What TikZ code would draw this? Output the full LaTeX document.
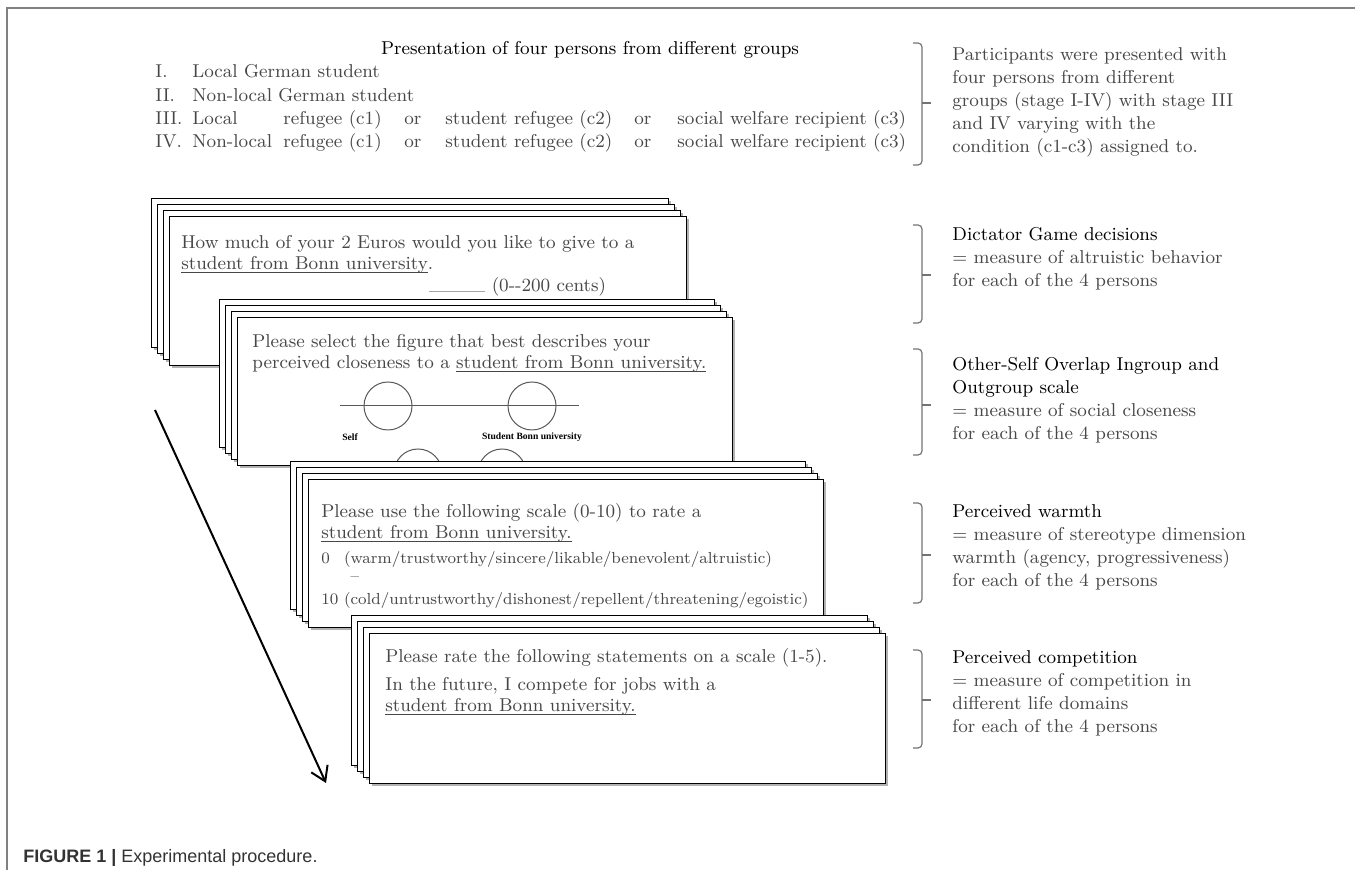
\documentclass[tikz,border=0pt]{standalone}
\usepackage{fontspec}
\usetikzlibrary{arrows.meta,shadows}
\newfontfamily\figfont{Liberation Serif}
\newfontfamily\capfont{Liberation Sans}
\definecolor{txtgray}{gray}{0.28}
\definecolor{framegray}{gray}{0.5}
\newsavebox{\undlbox}
\newcommand{\undl}[1]{\sbox{\undlbox}{#1}\rlap{\rule[-1.6pt]{\wd\undlbox}{0.45pt}}\usebox{\undlbox}}
\newcommand{\lines}[1]{\begin{tabular}[t]{@{}l@{}}#1\end{tabular}}
\newcommand{\hd}[1]{\textcolor{black}{#1}}
\newcommand{\scalefont}{\fontsize{8.0}{10}\selectfont}
% stack of four cards, front card at (#2,#3), size #4 x #5 (px)
\newcommand{\cardstack}[5]{%
	\foreach \k in {3,2,1,0}
		\node at ({#2-6*\k},{#3-6*\k}) (#1-\k) [card,minimum width=#4*0.5pt,minimum height=#5*0.5pt] {};
}
% bracket on the right: x, top, tick, bottom
\newcommand{\sidebrace}[4]{%
	\draw[sidebr] ({#1-9},#2) -- (#1,#2) -- (#1,#4) -- ({#1-9},#4);
	\draw[sidebr] (#1,#3) -- ({#1+9},#3);
}
\begin{document}
\begin{tikzpicture}
		[x=0.5pt,y=-0.5pt,
		card/.style={draw,fill=white,line width=0.7pt,anchor=north west,inner sep=0pt,
drop shadow={shadow xshift=1pt,shadow yshift=-1.2pt,fill=black,opacity=0.3}},
		note/.style={anchor=base west,inner sep=0pt,text=txtgray,font=\fontsize{9.3}{11.5}\selectfont},
		cardtext/.style={note,font=\fontsize{9.3}{10.5}\selectfont},
		sidebr/.style={draw=black!55,line width=0.6pt,rounded corners=2pt},
		ios/.style={circle,draw=black!65,line width=0.5pt,minimum size=24pt,inner sep=0pt},
		ioslabel/.style={inner sep=0pt,font=\figfont\bfseries\fontsize{4.8}{5}\selectfont},
		flow/.style={-{Straight Barb[length=7pt,width=9pt]},line width=1pt}]
		\useasboundingbox (0,0) rectangle (1355,870);
		\draw[framegray,line width=0.8pt] (7,870) -- (7,8) -- (1355,8);
		% presentation of the groups
		\node at (590,55) (title) [anchor=base,inner sep=0pt,font=\fontsize{9.3}{11.5}\selectfont] {Presentation of four persons from different groups};
		\node at (155,78) (groups) [note,font=\fontsize{9.3}{11.65}\selectfont] {%
\begin{tabular}[t]{@{}p{18.5pt}@{}p{45.5pt}@{}p{60.5pt}@{}p{20.5pt}@{}p{94.5pt}@{}p{21.5pt}@{}l@{}}
I. & \multicolumn{6}{@{}l}{Local German student}\\
II. & \multicolumn{6}{@{}l}{Non-local German student}\\
III. & Local & refugee (c1) & or & student refugee (c2) & or & social welfare recipient (c3)\\
IV. & Non-local & refugee (c1) & or & student refugee (c2) & or & social welfare recipient (c3)
\end{tabular}};
		% dictator game
		\cardstack{dg}{169}{216}{517}{149}
		\node at (181,249) (dgtext) [cardtext] {\lines{How much of your 2 Euros would you like to give to a\\\undl{student from Bonn university}.}};
		\node at (429,292) (dgamount) [cardtext] {\textcolor{black!35}{\rule{28pt}{0.4pt}}\ (0-{}-200 cents)};
		% other-self overlap
		\cardstack{io}{237}{317}{495}{148}
		\node at (252,348) (iostext) [cardtext] {\lines{Please select the figure that best describes your\\perceived closeness to a \undl{student from Bonn university.}}};
		\coordinate (iosleft) at (340,406);
		\coordinate (iosright) at (579,406);
		\draw[black!65,line width=0.5pt] (iosleft) -- (iosright);
		\node at (388,406) (self) [ios] {};
		\node at (532,406) (other) [ios] {};
		\node at (350,437) (selflabel) [ioslabel] {Self};
		\node at (532,437) (otherlabel) [ioslabel] {Student Bonn university};
		\node at (418,473) (selfb) [ios] {};
		\node at (502,473) (otherb) [ios] {};
		% warmth
		\cardstack{wa}{308}{479}{515}{148}
		\node at (321,518) (warmtext) [cardtext] {\lines{Please use the following scale (0-10) to rate a\\\undl{student from Bonn university.}\\[2pt]
\scalefont 0\phantom{0} (warm/trustworthy/sincere/likable/benevolent/altruistic)\\[-1.5pt]
\scalefont\phantom{10 (}\textendash\\[1pt]
\scalefont 10 (cold/untrustworthy/dishonest/repellent/threatening/egoistic)}};
		% competition
		\cardstack{co}{369}{633}{516}{150}
		\node at (385,663) (comptext) [cardtext] {\lines{Please rate the following statements on a scale (1-5).\\[3.5pt]
In the future, I compete for jobs with a\\\undl{student from Bonn university.}}};
		% order of the tasks
		\coordinate (flowtop) at (155,410);
		\coordinate (flowend) at (326,783);
		\draw[flow] (flowtop) -- (flowend);
		% notes on the right
		\sidebrace{922}{43}{103}{165}
		\sidebrace{922}{225}{275}{323}
		\sidebrace{922}{349}{405}{455}
		\sidebrace{922}{503}{555}{603}
		\sidebrace{922}{650}{700}{748}
		\node at (952,61) (presnote) [note] {\lines{Participants were presented with\\four persons from different\\groups (stage I-IV) with stage III\\and IV varying with the\\condition (c1-c3) assigned to.}};
		\node at (952,241) (dgnote) [note] {\lines{\hd{Dictator Game decisions}\\= measure of altruistic behavior\\for each of the 4 persons}};
		\node at (952,371) (iosnote) [note] {\lines{\hd{Other-Self Overlap Ingroup and}\\\hd{Outgroup scale}\\= measure of social closeness\\for each of the 4 persons}};
		\node at (952,518) (warmnote) [note] {\lines{\hd{Perceived warmth}\\= measure of stereotype dimension\\warmth (agency, progressiveness)\\for each of the 4 persons}};
		\node at (952,664) (compnote) [note] {\lines{\hd{Perceived competition}\\= measure of competition in\\different life domains\\for each of the 4 persons}};
		\node at (23,858) (caption) [anchor=west,inner sep=0pt,text=black!80,font=\capfont\fontsize{9}{10}\selectfont] {\textbf{FIGURE 1 |} Experimental procedure.};
	\end{tikzpicture}
\end{document}
